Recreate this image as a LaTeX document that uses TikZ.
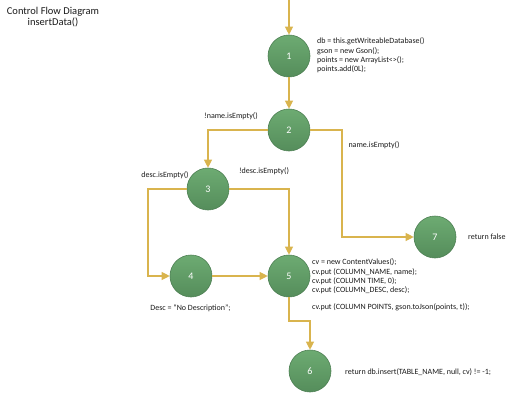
\documentclass[tikz,border=0pt]{standalone}
\usepackage{fontspec}
\setmainfont{Carlito}
\usetikzlibrary{arrows.meta}
\definecolor{gold}{HTML}{D9B44E}
\definecolor{ntop}{HTML}{6DAB72}
\definecolor{nbot}{HTML}{558D5B}
\definecolor{nborder}{HTML}{4E8054}
\definecolor{txt}{HTML}{1A1A1A}
\tikzset{
  cfnode/.style={circle, minimum size=42pt, inner sep=0pt, top color=ntop, bottom color=nbot, draw=nborder, line width=0.6pt, text=white, font=\fontsize{10}{11}\selectfont},
  flow/.style={draw=gold, line width=1.1pt, -{Triangle[length=8pt,width=8pt]}},
  code/.style={text=txt, font=\fontsize{8}{9.4}\selectfont, inner sep=0pt, align=left},
  cond/.style={text=txt, font=\fontsize{8}{9}\selectfont, inner sep=0pt},
  title/.style={text=txt, font=\fontsize{10.5}{11.5}\selectfont, inner sep=0pt, align=center}
}
\begin{document}
\begin{tikzpicture}[x=1pt,y=-1pt]
\useasboundingbox (0,0) rectangle (510,401);
\node[title] (t) at (53,17) {Control Flow Diagram\\insertData()};
\coordinate (start) at (289,0);
\node[cfnode] (n1) at (289,56) {1};
\node[cfnode] (n2) at (289,130) {2};
\node[cfnode] (n3) at (208,189) {3};
\node[cfnode] (n4) at (191,276) {4};
\node[cfnode] (n5) at (289,276) {5};
\node[cfnode] (n6) at (310,371) {6};
\node[cfnode] (n7) at (435,237) {7};
% edges
\draw[flow] (start) -- (n1);
\draw[flow] (n1) -- (n2);
\draw[flow] (n2.west) -| (n3.north);
\draw[flow] (n2.east) -- (342,130) |- (n7.west);
\draw[flow] (n3.west) -- (148,189) |- (n4.west);
\draw[flow] (n3.east) -| (n5.north);
\draw[flow] (n4) -- (n5);
\draw[flow] (n5.south) -- (289,321) -| (n6.north);
% texts
\node[code, anchor=west] (c1) at (317,55.5) {db = this.getWriteableDatabase()\\gson = new Gson();\\points = new ArrayList<>();\\points.add(0L);};
\node[cond] (l23) at (231,116) {!name.isEmpty()};
\node[cond] (l27) at (374,145) {name.isEmpty()};
\node[cond] (l35) at (264,171) {!desc.isEmpty()};
\node[cond] (l34) at (165,175) {desc.isEmpty()};
\node[code, anchor=west] (c7) at (468,237) {return false};
\node[code, anchor=west] (c5) at (312,276.5) {cv = new ContentValues();\\cv.put (COLUMN\_NAME, name);\\cv.put (COLUMN TIME, 0);\\cv.put (COLUMN\_DESC, desc);};
\node[code, anchor=west] (c5b) at (312,307) {cv.put (COLUMN POINTS, gson.toJson(points, t));};
\node[code] (c4) at (190.5,308) {Desc = “No Description”;};
\node[code, anchor=west] (c6) at (345,372) {return db.insert(TABLE\_NAME, null, cv) != -1;};
\end{tikzpicture}
\end{document}
